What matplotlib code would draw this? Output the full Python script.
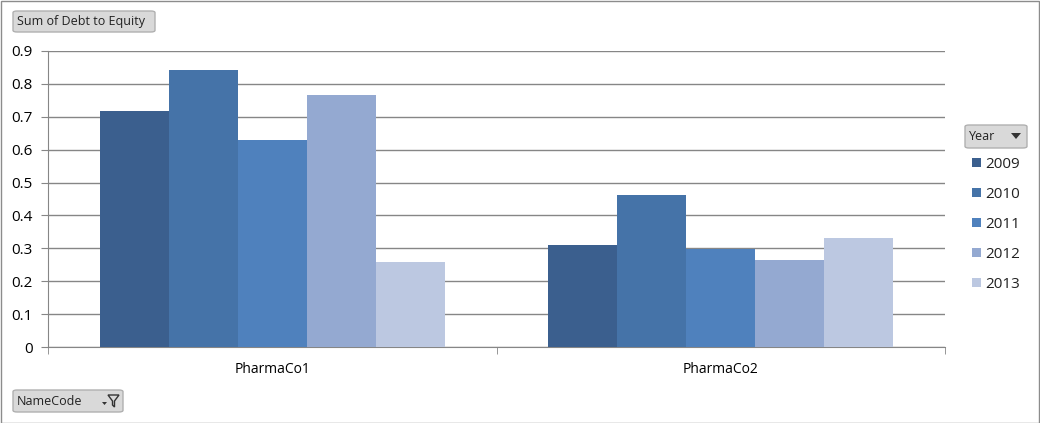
import numpy as np
import matplotlib.pyplot as plt
from matplotlib.patches import FancyBboxPatch, Rectangle, Polygon

plt.rcParams['font.family'] = ['Open Sans', 'DejaVu Sans']

companies = ['PharmaCo1', 'PharmaCo2']
years = ['2009', '2010', '2011', '2012', '2013']
values = {
    '2009': [0.717, 0.310],
    '2010': [0.842, 0.462],
    '2011': [0.629, 0.298],
    '2012': [0.766, 0.265],
    '2013': [0.258, 0.331],
}
colors = ['#3b5f8e', '#4573a8', '#4f81bd', '#94a9d1', '#bcc8e1']

W, H = 1040, 423
fig = plt.figure(figsize=(W / 100, H / 100), dpi=100)
fig.patch.set_facecolor('white')

ax = fig.add_axes([48 / W, (H - 347) / H, (945 - 48) / W, (347 - 51) / H])
x = np.arange(len(companies))
bw = 0.154
for i, y in enumerate(years):
    ax.bar(x + (i - 2) * bw, values[y], bw, color=colors[i], zorder=3)

ax.set_xlim(-0.5, 1.5)
ax.set_ylim(0, 0.9)
ax.set_yticks(np.arange(0, 0.91, 0.1))
ax.set_yticklabels(['0'] + ['%.1f' % v for v in np.arange(0.1, 0.91, 0.1)])
ax.yaxis.grid(True, color='#868686', lw=1, zorder=0)
ax.set_xticks(x)
ax.set_xticklabels(companies)
ax.set_xticks([-0.5, 0.5, 1.5], minor=True)
ax.tick_params(axis='x', which='major', length=0, pad=11, labelsize=10)
ax.tick_params(axis='x', which='minor', length=5, color='#868686')
ax.tick_params(axis='y', length=5, color='#868686', labelsize=11, pad=6)
for s in ['top', 'right']:
    ax.spines[s].set_visible(False)
for s in ['left', 'bottom']:
    ax.spines[s].set_color('#868686')

# outer border
fig.add_artist(Rectangle((0.5 / W, 0.5 / H), (W - 1.5) / W, (H - 1.5) / H,
                         transform=fig.transFigure, fill=False, ec='#8c8c8c', lw=1))


def button(x0, y0, x1, y1, label):
    b = FancyBboxPatch((x0 / W, 1 - y1 / H), (x1 - x0) / W, (y1 - y0) / H,
                       boxstyle='round,pad=0,rounding_size=0.004',
                       transform=fig.transFigure, fc='#d9d9d9', ec='#b0b0b0', lw=1)
    fig.add_artist(b)
    fig.text((x0 + 4) / W, 1 - (y0 + y1) / 2 / H, label, fontsize=9,
             va='center', ha='left', color='#222222')


button(13, 11, 155, 32, 'Sum of Debt to Equity')
button(13, 390, 123, 412, 'NameCode')
button(965, 125, 1027, 148, 'Year')

# dropdown triangle on Year button
fig.add_artist(Polygon([[1011 / W, 1 - 133 / H], [1021 / W, 1 - 133 / H], [1016 / W, 1 - 139 / H]],
                       closed=True, transform=fig.transFigure, fc='#333333', ec='none'))
# filter icon on NameCode button
fig.add_artist(Polygon([[108 / W, 1 - 395 / H], [119 / W, 1 - 395 / H], [114.5 / W, 1 - 401 / H],
                        [114.5 / W, 1 - 407 / H], [112.5 / W, 1 - 405 / H], [112.5 / W, 1 - 401 / H]],
                       closed=True, transform=fig.transFigure, fc='none', ec='#333333', lw=1))
fig.add_artist(Polygon([[102 / W, 1 - 402 / H], [107 / W, 1 - 402 / H], [104.5 / W, 1 - 405 / H]],
                       closed=True, transform=fig.transFigure, fc='#333333', ec='none'))

# legend
for i, y in enumerate(years):
    yc = 163 + 30 * i
    fig.add_artist(Rectangle((972 / W, 1 - (yc + 4) / H), 9 / W, 9 / H,
                             transform=fig.transFigure, fc=colors[i], ec='none'))
    fig.text(985 / W, 1 - (yc + 1) / H, y, fontsize=11, va='center', ha='left', color='#222222')

fig.savefig('out.png', dpi=100)
